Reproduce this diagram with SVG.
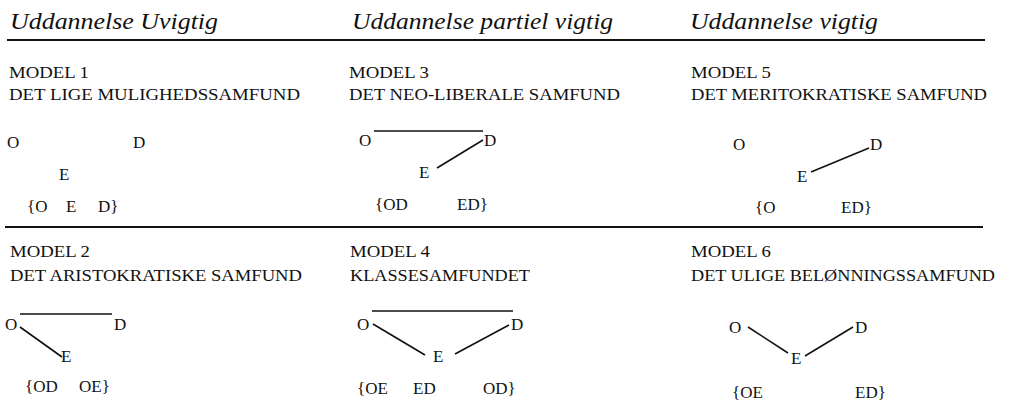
<svg xmlns="http://www.w3.org/2000/svg" width="1014" height="403" viewBox="0 0 1014 403">
<style>
.h{font-style:italic;font-size:24px;fill:#111}
.t{font-size:17px;fill:#111}
.rule{stroke:#111;stroke-width:2.2}
.c{stroke:#111;stroke-width:1.6;fill:none}
</style>
<rect width="1014" height="403" fill="#fff"/>
<g id="header" font-family="Liberation Serif, Times New Roman, DejaVu Serif, serif">
<text class="h" x="10" y="29" textLength="208" lengthAdjust="spacingAndGlyphs">Uddannelse Uvigtig</text>
<text class="h" x="352" y="29" textLength="261" lengthAdjust="spacingAndGlyphs">Uddannelse partiel vigtig</text>
<text class="h" x="690" y="29" textLength="188" lengthAdjust="spacingAndGlyphs">Uddannelse vigtig</text>
<line class="rule" x1="7" y1="40" x2="985" y2="40"/>
<line class="rule" x1="5" y1="227" x2="983" y2="227"/>
</g>
<g id="connectors">
<line class="c" x1="374" y1="131" x2="483" y2="131"/>
<line class="c" x1="437" y1="168" x2="483" y2="140"/>
<line class="c" x1="811" y1="172" x2="869" y2="148"/>
<line class="c" x1="20" y1="314" x2="112" y2="314"/>
<line class="c" x1="20" y1="327" x2="62" y2="357"/>
<line class="c" x1="372" y1="311" x2="513" y2="311"/>
<line class="c" x1="373" y1="324" x2="425" y2="355"/>
<line class="c" x1="455" y1="354" x2="509" y2="325"/>
<line class="c" x1="748" y1="327" x2="788" y2="353"/>
<line class="c" x1="805" y1="356" x2="853" y2="327"/>
</g>
<g id="nodes" font-family="Liberation Serif, Times New Roman, DejaVu Serif, serif">
<g id="model1">
<text class="t" x="9" y="78" textLength="80" lengthAdjust="spacingAndGlyphs">MODEL 1</text>
<text class="t" x="9" y="100" textLength="291" lengthAdjust="spacingAndGlyphs">DET LIGE MULIGHEDSSAMFUND</text>
<text class="t" x="7" y="148">O</text>
<text class="t" x="133" y="148">D</text>
<text class="t" x="59" y="180">E</text>
<text class="t" x="27" y="212">{O</text>
<text class="t" x="66" y="212">E</text>
<text class="t" x="98" y="212">D}</text>
</g>
<g id="model3">
<text class="t" x="349" y="78" textLength="80" lengthAdjust="spacingAndGlyphs">MODEL 3</text>
<text class="t" x="349" y="100" textLength="271" lengthAdjust="spacingAndGlyphs">DET NEO-LIBERALE SAMFUND</text>
<text class="t" x="359" y="146">O</text>
<text class="t" x="484" y="146">D</text>
<text class="t" x="419" y="178">E</text>
<text class="t" x="375" y="210">{OD</text>
<text class="t" x="457" y="210">ED}</text>
</g>
<g id="model5">
<text class="t" x="691" y="78" textLength="80" lengthAdjust="spacingAndGlyphs">MODEL 5</text>
<text class="t" x="691" y="100" textLength="296" lengthAdjust="spacingAndGlyphs">DET MERITOKRATISKE SAMFUND</text>
<text class="t" x="733" y="150">O</text>
<text class="t" x="870" y="150">D</text>
<text class="t" x="797" y="182">E</text>
<text class="t" x="755" y="213">{O</text>
<text class="t" x="841" y="213">ED}</text>
</g>
<g id="model2">
<text class="t" x="10" y="257" textLength="80" lengthAdjust="spacingAndGlyphs">MODEL 2</text>
<text class="t" x="10" y="281" textLength="292" lengthAdjust="spacingAndGlyphs">DET ARISTOKRATISKE SAMFUND</text>
<text class="t" x="5" y="330">O</text>
<text class="t" x="114" y="330">D</text>
<text class="t" x="61" y="362">E</text>
<text class="t" x="25" y="392">{OD</text>
<text class="t" x="79" y="392">OE}</text>
</g>
<g id="model4">
<text class="t" x="350" y="257" textLength="80" lengthAdjust="spacingAndGlyphs">MODEL 4</text>
<text class="t" x="350" y="281" textLength="180" lengthAdjust="spacingAndGlyphs">KLASSESAMFUNDET</text>
<text class="t" x="357" y="330">O</text>
<text class="t" x="511" y="330">D</text>
<text class="t" x="433" y="362">E</text>
<text class="t" x="357" y="394">{OE</text>
<text class="t" x="413" y="394">ED</text>
<text class="t" x="483" y="394">OD}</text>
</g>
<g id="model6">
<text class="t" x="691" y="257" textLength="80" lengthAdjust="spacingAndGlyphs">MODEL 6</text>
<text class="t" x="691" y="281" textLength="304" lengthAdjust="spacingAndGlyphs">DET ULIGE BELØNNINGSSAMFUND</text>
<text class="t" x="729" y="333">O</text>
<text class="t" x="855" y="333">D</text>
<text class="t" x="791" y="364">E</text>
<text class="t" x="732" y="398">{OE</text>
<text class="t" x="855" y="398">ED}</text>
</g>
</g>
</svg>
